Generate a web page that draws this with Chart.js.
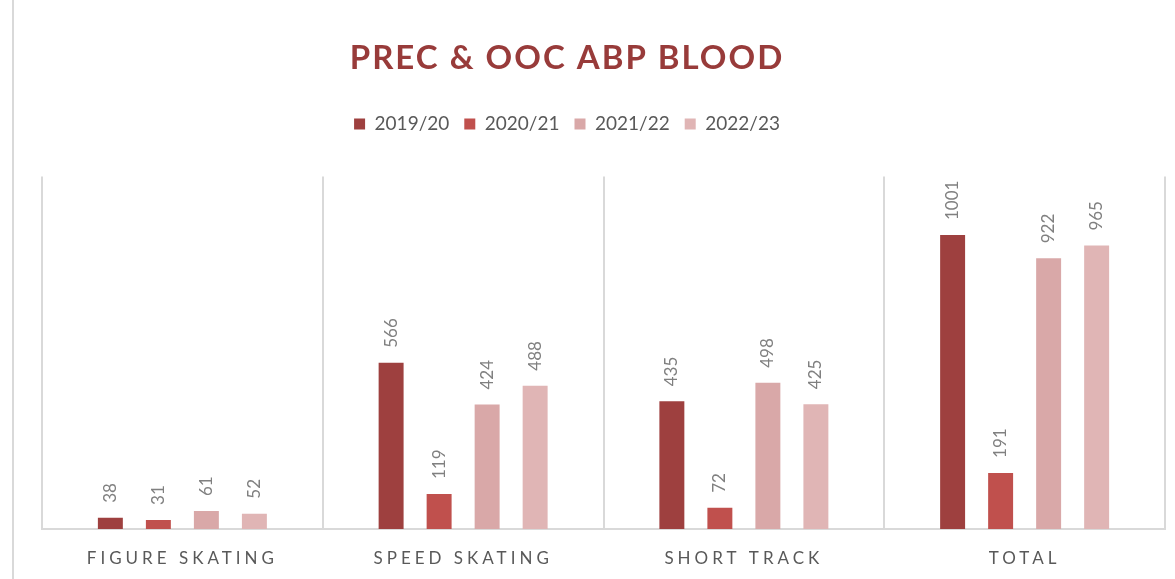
<!DOCTYPE html>
<html>
<head>
<meta charset="utf-8">
<script src="https://cdn.jsdelivr.net/npm/chart.js@4.4.1/dist/chart.umd.min.js"></script>
<style>
    html, body { margin: 0; padding: 0; background: #fff; overflow: hidden; }
    #frame { position: absolute; left: 12px; top: 0; width: 0; height: 579px; border-left: 2px solid #d9d9d9; }
    #wrap { position: absolute; left: -31px; top: 0; width: 1206px; height: 579px; }
</style>
</head>
<body>
<div id="frame"></div>
<div id="wrap"><canvas id="chart"></canvas></div>
<script>
// === DATA ===
const categories = ["FIGURE SKATING", "SPEED SKATING", "SHORT TRACK", "TOTAL"];
const seasons = ["2019/20", "2020/21", "2021/22", "2022/23"];
const values1920 = [38, 566, 435, 1001];
const values2021 = [31, 119, 72, 191];
const values2122 = [61, 424, 498, 922];
const values2223 = [52, 488, 425, 965];
const seasonColors = ["#9e403f", "#c0504d", "#d9a8a8", "#e0b5b5"];

const seriesValues = [values1920, values2021, values2122, values2223];

// value labels, rotated, above each bar
const barLabels = {
    id: "barLabels",
    afterDatasetsDraw(chart) {
        const ctx = chart.ctx;
        ctx.save();
        ctx.letterSpacing = "0px";
        ctx.font = "17px Lato";
        ctx.fillStyle = "#808080";
        ctx.textAlign = "left";
        ctx.textBaseline = "middle";
        chart.data.datasets.forEach((ds, i) => {
            chart.getDatasetMeta(i).data.forEach((bar, j) => {
                ctx.save();
                ctx.translate(bar.x, bar.y - 15);
                ctx.rotate(-Math.PI / 2);
                ctx.fillText(String(ds.data[j]), 0, 0);
                ctx.restore();
            });
        });
        ctx.restore();
    }
};

// extra room under the legend
const legendGap = {
    id: "legendGap",
    beforeInit(chart) {
        const fit = chart.legend.fit;
        chart.legend.fit = function () {
            fit.call(this);
            this.height += 33;
        };
    }
};

// letter spacing for the title and the category labels
const spacedText = {
    id: "spacedText",
    beforeDraw(chart) {
        const x = chart.scales.x;
        if (x && !x._spaced) {
            const drawLabels = x.drawLabels;
            x.drawLabels = function (area) {
                chart.ctx.letterSpacing = "4px";
                drawLabels.call(this, area);
                chart.ctx.letterSpacing = "0px";
            };
            x._spaced = true;
        }
        const tb = chart.titleBlock;
        if (tb && !tb._spaced) {
            const drawTitle = tb.draw;
            tb.draw = function (area) {
                chart.ctx.letterSpacing = "2px";
                drawTitle.call(this, area);
                chart.ctx.letterSpacing = "0px";
            };
            tb._spaced = true;
        }
    }
};

new Chart(document.getElementById("chart"), {
    type: "bar",
    data: {
        labels: categories,
        datasets: seasons.map((s, i) => ({
            label: s,
            data: seriesValues[i],
            backgroundColor: seasonColors[i],
            borderWidth: 0,
            categoryPercentage: 0.684,
            barPercentage: 0.52
        }))
    },
    options: {
        responsive: true,
        maintainAspectRatio: false,
        animation: false,
        layout: { padding: { top: 0, right: 10, bottom: 0, left: 0 } },
        plugins: {
            title: {
                display: true,
                text: "PREC & OOC ABP BLOOD",
                color: "#983b3a",
                font: { family: "Lato", size: 33, weight: "bold" },
                padding: { top: 39, bottom: 21 }
            },
            legend: {
                display: true,
                labels: {
                    boxWidth: 11,
                    boxHeight: 11,
                    padding: 15,
                    color: "#595959",
                    font: { family: "Lato", size: 19 }
                }
            },
            tooltip: { enabled: false }
        },
        scales: {
            x: {
                grid: { display: true, color: "#d9d9d9", lineWidth: 2, drawTicks: false, offset: true },
                border: { display: true, color: "#d9d9d9", width: 2 },
                ticks: {
                    color: "#595959",
                    font: { family: "Lato", size: 17 },
                    padding: 19,
                    autoSkip: false,
                    maxRotation: 0
                },
                afterFit(scale) { scale.height = 50; }
            },
            y: {
                min: 0,
                max: 1200,
                ticks: { display: false },
                grid: { display: false },
                border: { display: false },
                afterFit(scale) { scale.width = 73; }
            }
        }
    },
    plugins: [barLabels, spacedText, legendGap]
});
</script>
</body>
</html>
